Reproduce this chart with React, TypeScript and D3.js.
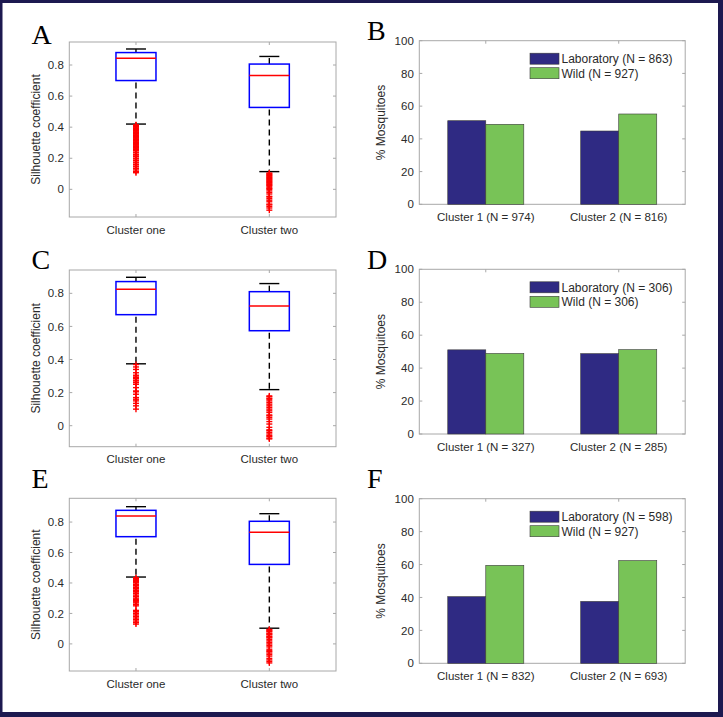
import React from "react";
import * as d3 from "d3";

// ---------- DATA ----------
const boxCategories = ["Cluster one", "Cluster two"];
const boxPanelLetters = ["A", "C", "E"];
const boxYTicks = [0, 0.2, 0.4, 0.6, 0.8];
const boxYLimits = [
  [-0.178, 0.948],
  [-0.127, 0.941],
  [-0.178, 0.956],
];
// [lowerWhisker, q1, median, q3, upperWhisker]
const statsA = [
  [0.42, 0.7, 0.843, 0.88, 0.903],
  [0.114, 0.527, 0.733, 0.806, 0.855],
];
const statsC = [
  [0.374, 0.671, 0.824, 0.871, 0.897],
  [0.218, 0.574, 0.724, 0.81, 0.859],
];
const statsE = [
  [0.439, 0.704, 0.84, 0.877, 0.901],
  [0.103, 0.522, 0.733, 0.805, 0.855],
];
const outliersA1 = [0.415, 0.41, 0.405, 0.4, 0.395, 0.39, 0.385, 0.38, 0.375, 0.37, 0.365, 0.36, 0.355, 0.35, 0.345, 0.34, 0.335, 0.33, 0.325, 0.32, 0.315, 0.31, 0.305, 0.3, 0.295, 0.29, 0.285, 0.28, 0.275, 0.27, 0.265, 0.26, 0.255, 0.25, 0.24, 0.235, 0.225, 0.22, 0.21, 0.2, 0.195, 0.185, 0.175, 0.17, 0.16, 0.15, 0.145, 0.135, 0.125, 0.115, 0.107];
const outliersA2 = [0.105, 0.1, 0.095, 0.09, 0.085, 0.08, 0.075, 0.07, 0.065, 0.06, 0.055, 0.05, 0.045, 0.04, 0.035, 0.03, 0.025, 0.02, 0.01, 0.005, 0, -0.01, -0.02, -0.03, -0.045, -0.05, -0.06, -0.07, -0.08, -0.095, -0.1, -0.11, -0.12, -0.134];
const outliersC1 = [0.37, 0.355, 0.34, 0.32, 0.305, 0.3, 0.29, 0.285, 0.275, 0.27, 0.26, 0.25, 0.23, 0.21, 0.205, 0.19, 0.17, 0.16, 0.15, 0.135, 0.12, 0.1];
const outliersC2 = [0.18, 0.175, 0.165, 0.16, 0.15, 0.14, 0.13, 0.12, 0.11, 0.1, 0.09, 0.08, 0.065, 0.06, 0.05, 0.04, 0.025, 0.01, -0.01, -0.025, -0.03, -0.04, -0.05, -0.06, -0.065, -0.075, -0.08];
const outliersE1 = [0.435, 0.43, 0.425, 0.42, 0.415, 0.41, 0.405, 0.4, 0.39, 0.385, 0.38, 0.37, 0.365, 0.36, 0.35, 0.345, 0.34, 0.33, 0.32, 0.31, 0.3, 0.29, 0.285, 0.28, 0.27, 0.26, 0.25, 0.22, 0.215, 0.21, 0.2, 0.19, 0.18, 0.17, 0.16, 0.15, 0.14, 0.13];
const outliersE2 = [0.095, 0.09, 0.085, 0.08, 0.07, 0.065, 0.06, 0.05, 0.045, 0.04, 0.03, 0.02, 0.01, 0, -0.01, -0.02, -0.035, -0.045, -0.05, -0.06, -0.07, -0.08, -0.095, -0.105, -0.115, -0.125];

const barPanelLetters = ["B", "D", "F"];
const barYTicks = [0, 20, 40, 60, 80, 100];
const barCategoriesB = ["Cluster 1 (N = 974)", "Cluster 2 (N = 816)"];
const barCategoriesD = ["Cluster 1 (N = 327)", "Cluster 2 (N = 285)"];
const barCategoriesF = ["Cluster 1 (N = 832)", "Cluster 2 (N = 693)"];
const labPctB = [51.1, 44.8];
const wildPctB = [48.9, 55.2];
const labPctD = [51.1, 48.8];
const wildPctD = [48.9, 51.2];
const labPctF = [40.5, 37.6];
const wildPctF = [59.5, 62.4];
const legendB = ["Laboratory (N = 863)", "Wild (N = 927)"];
const legendD = ["Laboratory (N = 306)", "Wild (N = 306)"];
const legendF = ["Laboratory (N = 598)", "Wild (N = 927)"];

// ---------- LAYOUT ----------
const W = 723;
const H = 717;
const FONT = "'Liberation Sans', Arial, Helvetica, sans-serif";
const SERIF = "'Liberation Serif', 'Times New Roman', serif";
const AXIS_COLOR = "#a8a8a8";
const TEXT_COLOR = "#2a2a2a";
const LAB_COLOR = "#2f2a83";
const WILD_COLOR = "#78c357";

const boxLeft = 69.3;
const boxRight = 336;
const boxRows = [
  { top: 42, bottom: 217, letterY: 44 },
  { top: 270, bottom: 446.7, letterY: 269 },
  { top: 498.3, bottom: 671, letterY: 488 },
];
const barLeft = 419.3;
const barRight = 685.2;
const barRows = [
  { top: 40.7, bottom: 204.3, letterY: 40 },
  { top: 269.3, bottom: 434, letterY: 269 },
  { top: 498.7, bottom: 663.3, letterY: 488 },
];

function Plus({ x, y }: { x: number; y: number }) {
  const s = 3;
  return (
    <g stroke="#ff0000" strokeWidth={1.4}>
      <line x1={x - s} x2={x + s} y1={y} y2={y} />
      <line x1={x} x2={x} y1={y - s} y2={y + s} />
    </g>
  );
}

function BoxPanel({ row, letter, yLim, stats, outliers }: any) {
  const x = d3.scaleLinear().domain([0.5, 2.5]).range([boxLeft, boxRight]);
  const y = d3.scaleLinear().domain(yLim).range([row.bottom, row.top]);
  const tick = 3;
  const halfBox = (x(1.15) - x(1));
  const halfCap = (x(1.075) - x(1));
  return (
    <g>
      <rect x={boxLeft} y={row.top} width={boxRight - boxLeft} height={row.bottom - row.top} fill="white" stroke={AXIS_COLOR} strokeWidth={1} />
      {boxYTicks.map((t) => (
        <g key={t}>
          <line x1={boxLeft} x2={boxLeft + tick} y1={y(t)} y2={y(t)} stroke={AXIS_COLOR} />
          <line x1={boxRight} x2={boxRight - tick} y1={y(t)} y2={y(t)} stroke={AXIS_COLOR} />
          <text x={boxLeft - 5.5} y={y(t)} dy="0.36em" textAnchor="end" fontSize={11.5} fontFamily={FONT} fill={TEXT_COLOR}>
            {t === 0 ? "0" : d3.format(".1f")(t)}
          </text>
        </g>
      ))}
      {boxCategories.map((c, i) => (
        <g key={c}>
          <line x1={x(i + 1)} x2={x(i + 1)} y1={row.bottom} y2={row.bottom - tick} stroke={AXIS_COLOR} />
          <line x1={x(i + 1)} x2={x(i + 1)} y1={row.top} y2={row.top + tick} stroke={AXIS_COLOR} />
          <text x={x(i + 1)} y={row.bottom + 16.5} textAnchor="middle" fontSize={11.5} fontFamily={FONT} fill={TEXT_COLOR}>
            {c}
          </text>
        </g>
      ))}
      <text transform={`translate(39.5,${(row.top + row.bottom) / 2}) rotate(-90)`} textAnchor="middle" fontSize={12} fontFamily={FONT} fill={TEXT_COLOR}>
        Silhouette coefficient
      </text>
      {stats.map((s: number[], i: number) => {
        const cx = x(i + 1);
        const [lw, q1, md, q3, uw] = s;
        return (
          <g key={i}>
            <line x1={cx} x2={cx} y1={y(q3)} y2={y(uw)} stroke="black" strokeWidth={1.4} strokeDasharray="6,4" />
            <line x1={cx} x2={cx} y1={y(q1)} y2={y(lw)} stroke="black" strokeWidth={1.4} strokeDasharray="6,4" strokeDashoffset={-2} />
            <line x1={cx - halfCap} x2={cx + halfCap} y1={y(uw)} y2={y(uw)} stroke="black" strokeWidth={1.4} />
            <line x1={cx - halfCap} x2={cx + halfCap} y1={y(lw)} y2={y(lw)} stroke="black" strokeWidth={1.4} />
            <rect x={cx - halfBox} y={y(q3)} width={2 * halfBox} height={y(q1) - y(q3)} fill="white" stroke="#0000ff" strokeWidth={1.5} />
            <line x1={cx - halfBox} x2={cx + halfBox} y1={y(md)} y2={y(md)} stroke="#ff0000" strokeWidth={1.5} />
            {outliers[i].map((v: number, k: number) => (
              <Plus key={k} x={cx} y={y(v)} />
            ))}
          </g>
        );
      })}
      <text x={31.5} y={row.letterY} fontSize={28} fontFamily={SERIF} fill="black">
        {letter}
      </text>
    </g>
  );
}

function BarPanel({ row, letter, categories, lab, wild, legend }: any) {
  const x = d3.scaleLinear().domain([0.5, 2.5]).range([barLeft, barRight]);
  const y = d3.scaleLinear().domain([0, 100]).range([row.bottom, row.top]);
  const tick = 3;
  const bw = 0.286;
  const series = [
    { vals: lab, color: LAB_COLOR, off: -bw },
    { vals: wild, color: WILD_COLOR, off: 0 },
  ];
  const lx0 = 530;
  const lx1 = 559;
  return (
    <g>
      <rect x={barLeft} y={row.top} width={barRight - barLeft} height={row.bottom - row.top} fill="white" stroke={AXIS_COLOR} strokeWidth={1} />
      {barYTicks.map((t) => (
        <g key={t}>
          <line x1={barLeft} x2={barLeft + tick} y1={y(t)} y2={y(t)} stroke={AXIS_COLOR} />
          <line x1={barRight} x2={barRight - tick} y1={y(t)} y2={y(t)} stroke={AXIS_COLOR} />
          <text x={barLeft - 5.5} y={y(t)} dy="0.36em" textAnchor="end" fontSize={11.5} fontFamily={FONT} fill={TEXT_COLOR}>
            {t}
          </text>
        </g>
      ))}
      {categories.map((c: string, i: number) => (
        <g key={c}>
          <line x1={x(i + 1)} x2={x(i + 1)} y1={row.bottom} y2={row.bottom - tick} stroke={AXIS_COLOR} />
          <line x1={x(i + 1)} x2={x(i + 1)} y1={row.top} y2={row.top + tick} stroke={AXIS_COLOR} />
          <text x={x(i + 1)} y={row.bottom + 17} textAnchor="middle" fontSize={11.5} fontFamily={FONT} fill={TEXT_COLOR}>
            {c}
          </text>
        </g>
      ))}
      {series.map((s, si) =>
        s.vals.map((v: number, i: number) => (
          <rect key={`${si}-${i}`} x={x(i + 1 + s.off)} y={y(v)} width={x(1 + bw) - x(1)} height={y(0) - y(v)} fill={s.color} stroke="#3a3a3a" strokeWidth={0.6} />
        ))
      )}
      <text transform={`translate(385,${(row.top + row.bottom) / 2}) rotate(-90)`} textAnchor="middle" fontSize={12} fontFamily={FONT} fill={TEXT_COLOR}>
        % Mosquitoes
      </text>
      {legend.map((l: string, i: number) => {
        const yy = row.top + 12.5 + i * 14.5;
        return (
          <g key={l}>
            <rect x={lx0} y={yy} width={lx1 - lx0} height={11} fill={series[i].color} stroke="#3a3a3a" strokeWidth={0.6} />
            <text x={lx1 + 2.5} y={yy + 5.5} dy="0.36em" fontSize={12} fontFamily={FONT} fill={TEXT_COLOR}>
              {l}
            </text>
          </g>
        );
      })}
      <text x={367} y={row.letterY} fontSize={28} fontFamily={SERIF} fill="black">
        {letter}
      </text>
    </g>
  );
}

export default function App() {
  const boxStats = [statsA, statsC, statsE];
  const boxOutliers = [
    [outliersA1, outliersA2],
    [outliersC1, outliersC2],
    [outliersE1, outliersE2],
  ];
  const barCats = [barCategoriesB, barCategoriesD, barCategoriesF];
  const labs = [labPctB, labPctD, labPctF];
  const wilds = [wildPctB, wildPctD, wildPctF];
  const legends = [legendB, legendD, legendF];
  return (
    <svg width={W} height={H} style={{ position: "absolute", left: 0, top: 0, display: "block" }}>
      <rect x={0} y={0} width={W} height={H} fill="white" />
      {boxRows.map((row, i) => (
        <BoxPanel key={i} row={row} letter={boxPanelLetters[i]} yLim={boxYLimits[i]} stats={boxStats[i]} outliers={boxOutliers[i]} />
      ))}
      {barRows.map((row, i) => (
        <BarPanel key={i} row={row} letter={barPanelLetters[i]} categories={barCats[i]} lab={labs[i]} wild={wilds[i]} legend={legends[i]} />
      ))}
      <rect x={0} y={0} width={2.5} height={H} fill="#1d1950" />
      <rect x={0} y={0} width={W} height={3} fill="#1d1950" />
      <rect x={W - 5} y={0} width={5} height={H} fill="#1d1950" />
      <rect x={0} y={H - 5} width={W} height={5} fill="#1d1950" />
    </svg>
  );
}
